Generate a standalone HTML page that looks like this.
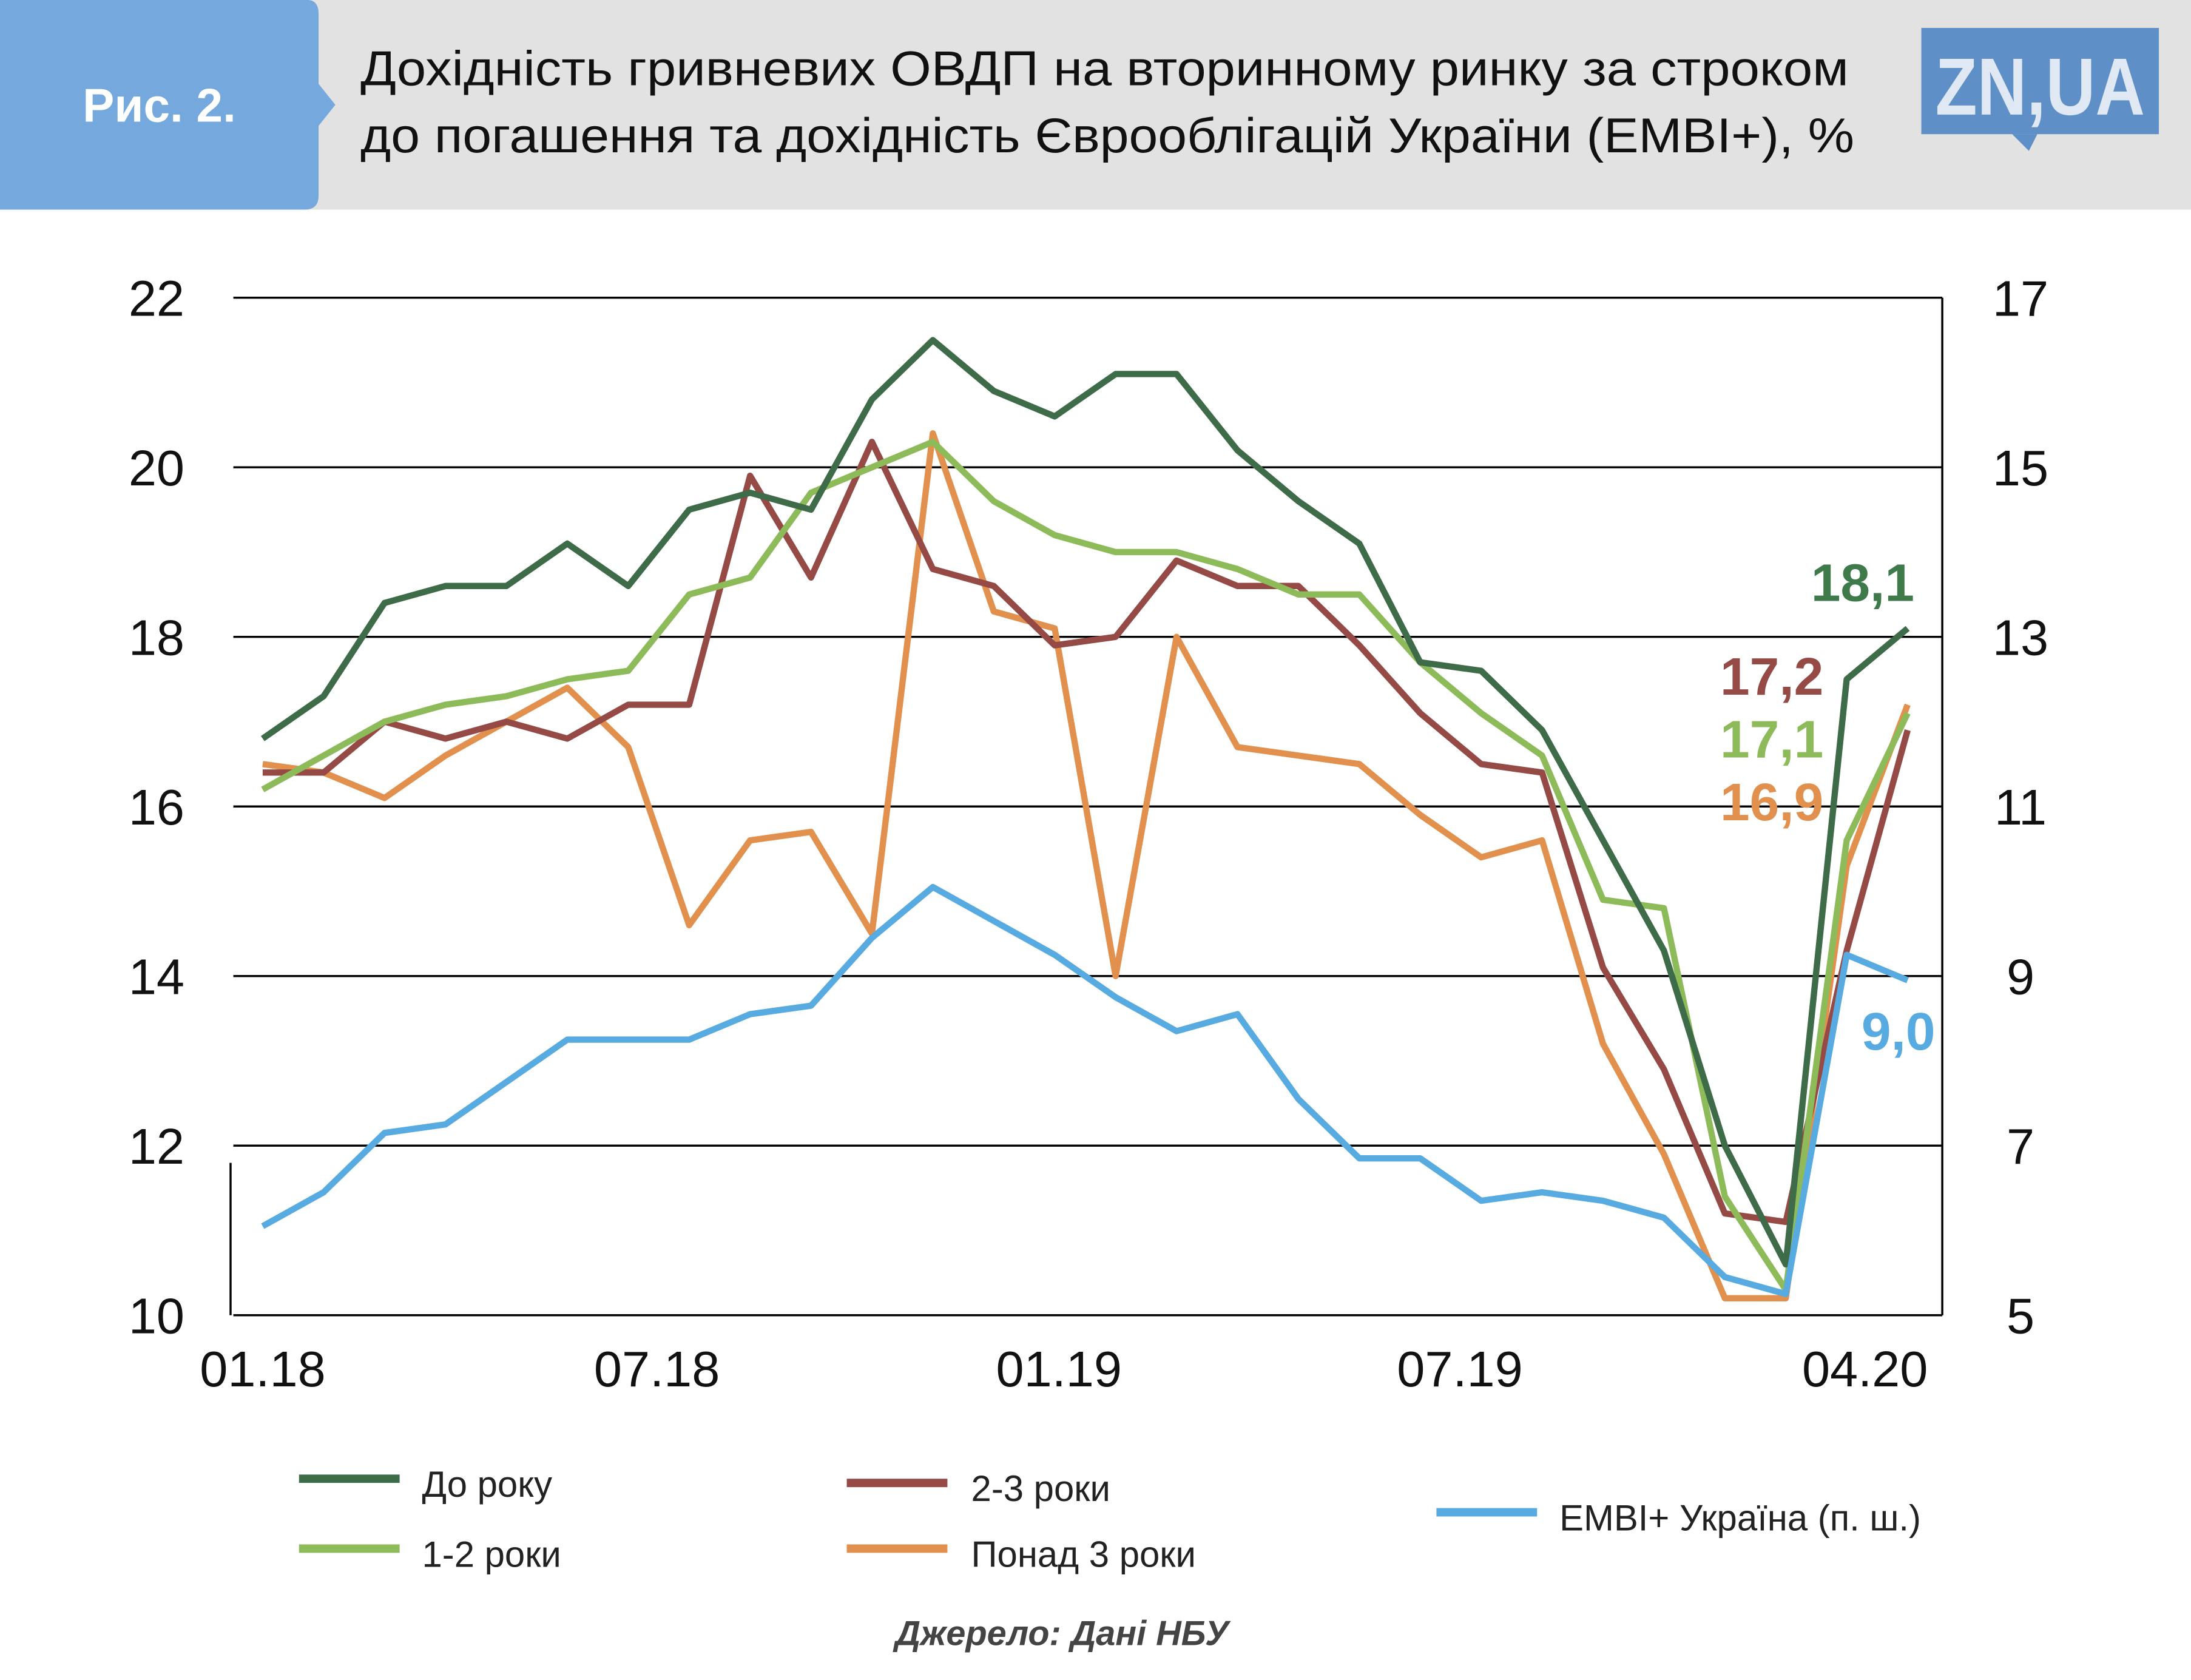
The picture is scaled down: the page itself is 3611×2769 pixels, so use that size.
<!DOCTYPE html>
<html><head><meta charset="utf-8">
<style>
html,body{margin:0;padding:0;background:#fff;}
svg{display:block;}
text{font-family:"Liberation Sans","DejaVu Sans",sans-serif;}
</style></head>
<body>
<svg id="chart" width="3611" height="2769" viewBox="0 0 1568 1202" preserveAspectRatio="none" xmlns="http://www.w3.org/2000/svg">
<rect x="0" y="0" width="1568" height="150" fill="#e2e2e2"/>
<path d="M0 0 H220 Q228 0 228 10 V60 L240 75 L228 90 V140 Q228 150 218 150 H0 Z" fill="#75a8dc"/>
<text x="114" y="87" font-size="34" font-weight="bold" fill="#fff" text-anchor="middle">Рис. 2.</text>
<text font-size="35" fill="#111">
<tspan x="258" y="61" textLength="1065" lengthAdjust="spacingAndGlyphs">Дохідність гривневих ОВДП на вторинному ринку за строком</tspan>
<tspan x="258" y="109" textLength="1069" lengthAdjust="spacingAndGlyphs">до погашення та дохідність Єврооблігацій України (EMBI+), %</tspan>
</text>
<g>
<rect x="1375" y="20" width="170" height="76" fill="#5e8fc6"/>
<path d="M1440 96 L1458 96 L1452 108 Z" fill="#5e8fc6"/>
<text x="1460" y="82" font-size="58" font-weight="bold" fill="#dfe8f3" text-anchor="middle" textLength="150" lengthAdjust="spacingAndGlyphs">ZN,UA</text>
</g>
<g id="plot"></g>
<g font-size="26" fill="#222">
<line x1="214" y1="1058" x2="286" y2="1058" stroke="#3e6b48" stroke-width="6"/><text x="302" y="1071">До року</text>
<line x1="214" y1="1108" x2="286" y2="1108" stroke="#8dbb5a" stroke-width="6"/><text x="302" y="1121">1-2 роки</text>
<line x1="606" y1="1061" x2="678" y2="1061" stroke="#954a45" stroke-width="6"/><text x="695" y="1074">2-3 роки</text>
<line x1="606" y1="1108" x2="678" y2="1108" stroke="#e2904e" stroke-width="6"/><text x="695" y="1121">Понад 3 роки</text>
<line x1="1028" y1="1082" x2="1100" y2="1082" stroke="#57abe0" stroke-width="6"/><text x="1116" y="1095">EMBI+ Україна (п. ш.)</text>
</g>
<text x="760" y="1177" font-size="25" font-style="italic" font-weight="bold" fill="#444" text-anchor="middle">Джерело: Дані НБУ</text>
</svg>
<script>
const categories=["01.18","02.18","03.18","04.18","05.18","06.18","07.18","08.18","09.18","10.18","11.18","12.18","01.19","02.19","03.19","04.19","05.19","06.19","07.19","08.19","09.19","10.19","11.19","12.19","01.20","02.20","03.20","04.20"];
const doRoku=[16.8,17.3,18.4,18.6,18.6,19.1,18.6,19.5,19.7,19.5,20.8,21.5,20.9,20.6,21.1,21.1,20.2,19.6,19.1,17.7,17.6,16.9,15.6,14.3,12.0,10.6,17.5,18.1];
const roky12=[16.2,16.6,17.0,17.2,17.3,17.5,17.6,18.5,18.7,19.7,20.0,20.3,19.6,19.2,19.0,19.0,18.8,18.5,18.5,17.7,17.1,16.6,14.9,14.8,11.4,10.3,15.6,17.1];
const roky23=[16.4,16.4,17.0,16.8,17.0,16.8,17.2,17.2,19.9,18.7,20.3,18.8,18.6,17.9,18.0,18.9,18.6,18.6,17.9,17.1,16.5,16.4,14.1,12.9,11.2,11.1,14.3,16.9];
const ponad3=[16.5,16.4,16.1,16.6,17.0,17.4,16.7,14.6,15.6,15.7,14.5,20.4,18.3,18.1,14.0,18.0,16.7,16.6,16.5,15.9,15.4,15.6,13.2,11.9,10.2,10.2,15.3,17.2];
const embi=[6.05,6.45,7.15,7.25,7.75,8.25,8.25,8.25,8.55,8.65,9.45,10.05,9.65,9.25,8.75,8.35,8.55,7.55,6.85,6.85,6.35,6.45,6.35,6.15,5.45,5.25,9.25,8.95];
const leftTicks=[10,12,14,16,18,20,22];
const rightTicks=[5,7,9,11,13,15,17];
const xTickLabels=["01.18","07.18","01.19","07.19","04.20"];
const xTickPos=[0,6.47,13.07,19.65,26.3];
const endLabels=["18,1","17,2","17,1","16,9","9,0"];

const NS="http://www.w3.org/2000/svg";
const g=document.getElementById('plot');
const X0=167,X1=1390,Y0=941,Y1=213;
const yL=v=>Y0-(v-10)/12*(Y0-Y1);
const yR=v=>Y0-(v-5)/12*(Y0-Y1);
const xI=i=>188+i*43.6;
function mk(t,a){const e=document.createElementNS(NS,t);for(const k in a)e.setAttribute(k,a[k]);g.appendChild(e);return e;}
leftTicks.forEach((v,i)=>{
  const l=mk('line',{x1:X0,x2:X1,y1:yL(v),y2:yL(v),stroke:'#000','stroke-width':1.5});
  
  
  const t=mk('text',{x:112,y:yL(v)+13,'font-size':36,'text-anchor':'middle',fill:'#111'});
  t.textContent=v;
  
  
  const r=mk('text',{x:1446,y:yR(rightTicks[i])+13,'font-size':36,'text-anchor':'middle',fill:'#111'});
  r.textContent=rightTicks[i];
  
  
});
const rb=mk('line',{x1:X1,x2:X1,y1:Y1,y2:Y0,stroke:'#000','stroke-width':1.5});


const lb=mk('line',{x1:X0-2,x2:X0-2,y1:832,y2:Y0,stroke:'#000','stroke-width':1.5});


xTickLabels.forEach((s,i)=>{
  const t=mk('text',{x:xI(xTickPos[i]),y:992,'font-size':36,'text-anchor':'middle',fill:'#111'});
  t.textContent=s;
  
  
});
const series=[[ponad3,'#e2904e',yL,'series-over-3-years'],[roky23,'#954a45',yL,'series-2-3-years'],[roky12,'#8dbb5a',yL,'series-1-2-years'],[doRoku,'#3e6b48',yL,'series-under-1-year'],[embi,'#57abe0',yR,'series-embi']];
series.forEach(([d,c,yf,n])=>{
  const p=mk('polyline',{points:d.map((v,i)=>xI(i)+','+yf(v)).join(' '),fill:'none',stroke:c,'stroke-width':4.5,'stroke-linejoin':'round'});
  
  
});
const lblPos=[[1370,430,'#3e7a4a'],[1305,497,'#954a45'],[1305,542,'#8dbb5a'],[1305,587,'#e2904e'],[1385,751,'#57abe0']];
endLabels.forEach((s,i)=>{
  const t=mk('text',{x:lblPos[i][0],y:lblPos[i][1],'font-size':38,'font-weight':'bold','text-anchor':'end',fill:lblPos[i][2]});
  t.textContent=s;
  
  
});
</script>
</body></html>
